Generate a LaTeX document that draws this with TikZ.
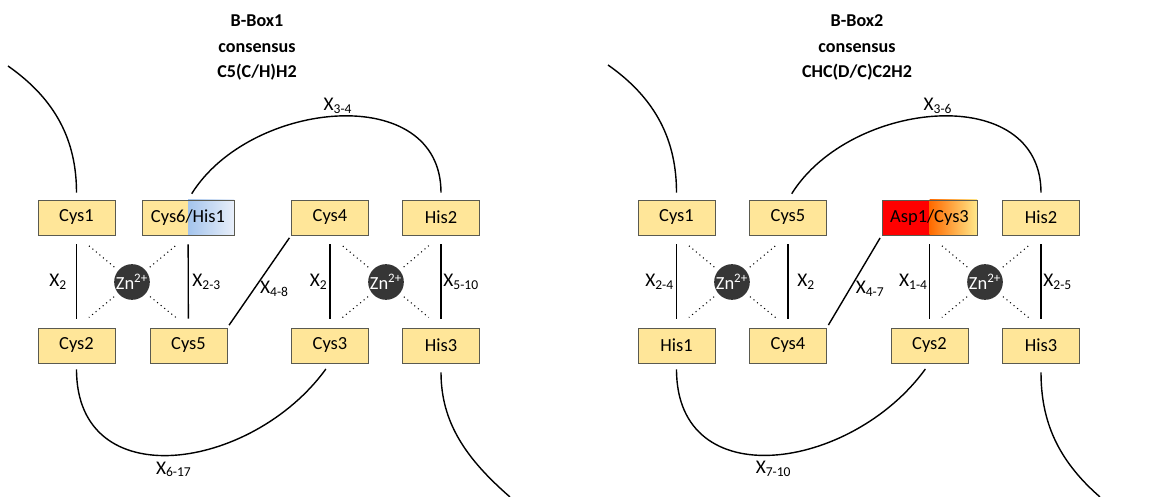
\documentclass[tikz,border=0pt]{standalone}
\usepackage{fontspec}
\setmainfont{Carlito}
\usepackage{tikz}

\definecolor{resfill}{HTML}{FFE699}
\definecolor{resline}{HTML}{5A5A50}
\definecolor{zngray}{HTML}{363636}
\definecolor{hisblue}{HTML}{A4C4EC}
\definecolor{hislight}{HTML}{E8EFFA}
\definecolor{asporange}{HTML}{FF6A00}
\definecolor{asplight}{HTML}{FFE88A}

\newcommand{\xsp}[2]{X\textsubscript{#1}}

\begin{document}
\begin{tikzpicture}[
  res/.style={rectangle, draw=resline, fill=resfill, minimum width=1.54cm, minimum height=0.7cm, inner sep=0pt, font=\fontsize{10.5}{12}\selectfont},
  zn/.style={circle, fill=zngray, text=white, minimum size=0.68cm, inner sep=0pt, font=\fontsize{10.5}{12}\selectfont},
  title/.style={align=center, font=\bfseries\fontsize{10.3}{14.5}\selectfont},
  lab/.style={font=\fontsize{11}{13}\selectfont},
  loop/.style={line width=0.8pt},
  span/.style={line width=0.75pt, shorten <=0.18cm, shorten >=0.18cm},
  bond/.style={dotted, line width=0.6pt, shorten <=0.1cm, shorten >=0.32cm}
]

\useasboundingbox (0,0) rectangle (23.18,-9.94);

% B-Box1
\node[title] (b1title) at (5.14,-0.95) {B-Box1\\consensus\\C5(C/H)H2};

% top row
\node[res] (b1cys1) at (1.53,-4.35) {Cys1};
\node[res, minimum width=1.84cm,
  path picture={
    \fill[resfill] (path picture bounding box.south west) rectangle (path picture bounding box.north);
    \shade[left color=hisblue, right color=hislight] (path picture bounding box.south) rectangle (path picture bounding box.north east);
  }] (b1mix) at (3.76,-4.35) {Cys6/His1};
\node[res] (b1cys4) at (6.6,-4.35) {Cys4};
\node[res] (b1his2) at (8.82,-4.35) {His2};

% bottom row
\node[res] (b1cys2) at (1.53,-6.91) {Cys2};
\node[res] (b1cys5) at (3.77,-6.91) {Cys5};
\node[res] (b1cys3) at (6.6,-6.91) {Cys3};
\node[res] (b1his3) at (8.82,-6.91) {His3};

% zinc ions
\node[zn] (b1zna) at (2.64,-5.64) {Zn\textsuperscript{2+}};
\node[zn] (b1znb) at (7.72,-5.64) {Zn\textsuperscript{2+}};

\coordinate (b1start) at (0.16,-1.32);
\coordinate (b1end) at (10.2,-9.94);

% spacers
\draw[span] (b1cys1) -- node[lab, left, inner sep=5pt] {\xsp{2}{}} (b1cys2);
\draw[span] (b1mix) -- node[lab, right, inner sep=2pt] {\xsp{2-3}{}} (b1cys5);
\draw[span] (b1cys4) -- node[lab, left, inner sep=1pt] {\xsp{2}{}} (b1cys3);
\draw[span] (b1his2) -- node[lab, right, inner sep=1pt] {\xsp{5-10}{}} (b1his3);
\draw[loop, shorten <=0.06cm, shorten >=0.06cm] (b1cys5.north east) -- node[lab, right, pos=0.42, inner sep=3pt] {\xsp{4-8}{}} (b1cys4.south west);

% loops
\draw[loop, shorten >=0.14cm] (b1start) to[out=-35, in=90] (b1cys1.north);
\draw[loop, shorten <=0.14cm, shorten >=0.14cm] (b1mix.north) to[out=58, in=90, looseness=1.2] node[lab, above, inner sep=2pt] {\xsp{3-4}{}} (b1his2.north);
\draw[loop, shorten <=0.12cm, shorten >=0.14cm] (b1cys2.south) to[out=-90, in=234, looseness=1.35] node[lab, below, inner sep=4pt] {\xsp{6-17}{}} (b1cys3.south);
\draw[loop, shorten <=0.18cm] (b1his3.south) to[out=-90, in=139] (b1end);

% zinc coordination
\draw[bond] (b1zna) -- (b1cys1.south);
\draw[bond] (b1zna) -- (b1mix.south);
\draw[bond] (b1zna) -- (b1cys2.north);
\draw[bond] (b1zna) -- (b1cys5.north);
\draw[bond] (b1znb) -- (b1cys4.south);
\draw[bond] (b1znb) -- (b1his2.south);
\draw[bond] (b1znb) -- (b1cys3.north);
\draw[bond] (b1znb) -- (b1his3.north);

% B-Box2
\node[title] (b2title) at (17.14,-0.95) {B-Box2\\consensus\\CHC(D/C)C2H2};

% top row
\node[res] (b2cys1) at (13.53,-4.35) {Cys1};
\node[res] (b2cys5) at (15.76,-4.35) {Cys5};
\node[res, minimum width=1.9cm,
  path picture={
    \fill[red] (path picture bounding box.south west) rectangle (path picture bounding box.north);
    \shade[left color=asporange, right color=asplight] (path picture bounding box.south) rectangle (path picture bounding box.north east);
  }] (b2mix) at (18.59,-4.35) {Asp1/Cys3};
\node[res] (b2his2) at (20.82,-4.35) {His2};

% bottom row
\node[res] (b2his1) at (13.53,-6.91) {His1};
\node[res] (b2cys4) at (15.76,-6.91) {Cys4};
\node[res] (b2cys2) at (18.59,-6.91) {Cys2};
\node[res] (b2his3) at (20.82,-6.91) {His3};

% zinc ions
\node[zn] (b2zna) at (14.64,-5.64) {Zn\textsuperscript{2+}};
\node[zn] (b2znb) at (19.7,-5.64) {Zn\textsuperscript{2+}};

\coordinate (b2start) at (12.16,-1.3);
\coordinate (b2end) at (22.0,-9.94);

% spacers
\draw[span] (b2cys1) -- node[lab, left, inner sep=1pt] {\xsp{2-4}{}} (b2his1);
\draw[span] (b2cys5) -- node[lab, right, inner sep=5pt] {\xsp{2}{}} (b2cys4);
\draw[span] (b2mix) -- node[lab, left, inner sep=0.5pt] {\xsp{1-4}{}} (b2cys2);
\draw[span] (b2his2) -- node[lab, right, inner sep=1pt] {\xsp{2-5}{}} (b2his3);
\draw[loop, shorten <=0.06cm, shorten >=0.06cm] (b2cys4.north east) -- node[lab, right, pos=0.42, inner sep=3pt] {\xsp{4-7}{}} (b2mix.south west);

% loops
\draw[loop, shorten >=0.14cm] (b2start) to[out=-35, in=90] (b2cys1.north);
\draw[loop, shorten <=0.14cm, shorten >=0.14cm] (b2cys5.north) to[out=58, in=90, looseness=1.2] node[lab, above, inner sep=2pt] {\xsp{3-6}{}} (b2his2.north);
\draw[loop, shorten <=0.12cm, shorten >=0.14cm] (b2his1.south) to[out=-90, in=234, looseness=1.35] node[lab, below, inner sep=4pt] {\xsp{7-10}{}} (b2cys2.south);
\draw[loop, shorten <=0.18cm] (b2his3.south) to[out=-90, in=139] (b2end);

% zinc coordination
\draw[bond] (b2zna) -- (b2cys1.south);
\draw[bond] (b2zna) -- (b2cys5.south);
\draw[bond] (b2zna) -- (b2his1.north);
\draw[bond] (b2zna) -- (b2cys4.north);
\draw[bond] (b2znb) -- (b2mix.south);
\draw[bond] (b2znb) -- (b2his2.south);
\draw[bond] (b2znb) -- (b2cys2.north);
\draw[bond] (b2znb) -- (b2his3.north);

\end{tikzpicture}
\end{document}
